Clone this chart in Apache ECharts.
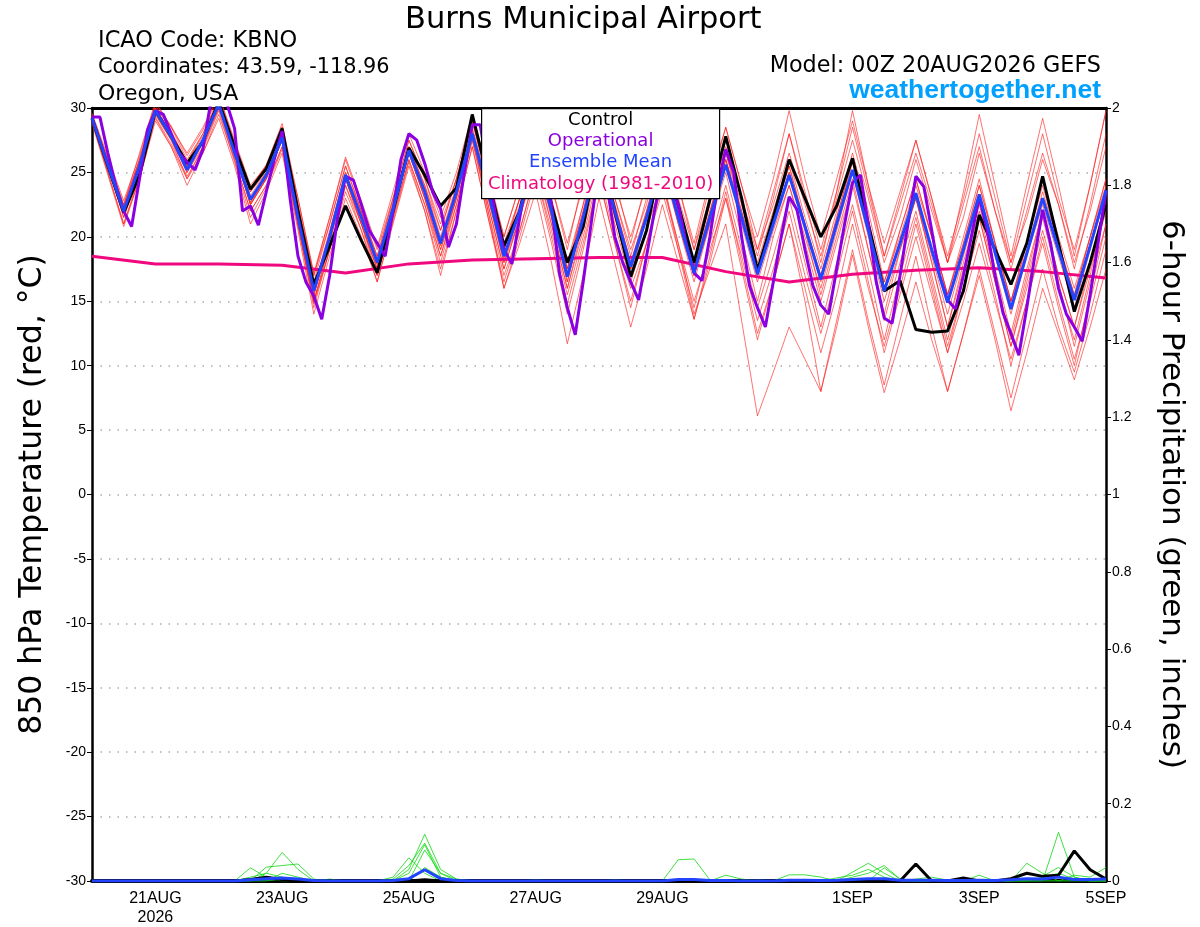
<!DOCTYPE html>
<html><head><meta charset="utf-8">
<script src="https://cdn.jsdelivr.net/npm/echarts@6/dist/echarts.min.js"></script>
<style>html,body{margin:0;padding:0;background:#fff}#c{width:1200px;height:927px}</style>
</head><body><div id="c"></div>
<script>
// ---- DATA ----
// forecast hour labels (x axis, hours after 00Z 20AUG2026)
const tickLabels = {24:'21AUG\n2026',72:'23AUG',120:'25AUG',168:'27AUG',216:'29AUG',288:'1SEP',336:'3SEP',384:'5SEP'};

// Control 850 hPa temperature (6-hourly, 65 values)
const control = [29.2,25.5,21.9,24.8, 29.8,27.8,25.7,27.4, 30.5,27.0,23.7,25.3, 28.4,22.0,16.3,19.3,
  22.4,19.7,17.2,22.0, 26.9,24.8,22.4,23.8, 29.5,24.5,19.3,22.0, 27.5,22.5,18.0,20.8,
  27.0,22.0,16.9,20.5, 26.5,22.5,18.0,22.9, 27.8,23.0,17.4,21.5, 26.0,23.0,20.0,22.4,
  26.1,21.0,15.8,16.6, 12.8,12.6,12.7,15.8, 21.7,19.0,16.3,19.5, 24.7,19.5,14.2,18.0, 22.5];

// Operational (3-hourly, 129 values)
const operational = [29.3,29.3,26.5,24.0,22.0,20.8,24.5,28.3,29.8,29.5,28.0,26.5,25.8,25.2,26.8,30.5,
  30.6,30.4,28.4,22.0,22.4,20.9,23.5,26.0,28.2,23.0,18.5,16.5,15.4,13.6,17.0,21.5,
  24.7,24.4,22.5,20.5,19.5,18.5,22.0,26.0,28.0,27.5,25.7,23.5,22.2,19.2,21.0,25.0,
  28.7,28.7,25.0,21.5,19.0,17.9,21.5,25.0,27.5,26.0,22.5,17.2,14.5,12.4,16.5,21.0,
  25.5,24.0,20.0,18.0,16.5,15.1,18.5,22.0,25.0,24.5,22.5,19.5,17.2,16.6,20.0,24.0,
  26.8,25.0,20.0,16.2,14.5,13.0,16.5,20.0,23.1,22.1,19.0,16.2,14.7,14.0,17.5,21.0,
  24.2,24.8,21.0,16.5,13.7,13.3,17.0,21.0,24.7,23.9,20.5,17.0,15.1,14.4,17.0,20.0,
  23.1,20.5,17.0,14.1,12.5,10.8,14.5,18.5,22.1,19.5,16.0,14.0,13.0,11.9,15.5,19.5, 23.6];

// Ensemble mean (6-hourly)
const ensMean = [29.2,25.6,22.0,25.5, 29.8,27.8,25.2,27.5, 30.3,26.5,22.9,24.8, 27.7,21.5,15.8,20.0,
  24.8,21.5,18.0,22.2, 26.7,23.5,19.5,23.5, 28.0,23.5,18.5,22.0, 26.5,22.0,16.9,21.5,
  26.5,22.0,17.7,21.5, 26.0,21.5,17.2,21.5, 25.6,21.5,17.1,21.0, 24.8,20.8,16.7,21.0,
  25.2,20.5,15.8,19.5, 23.4,19.0,14.9,19.0, 23.3,18.8,14.4,18.7, 23.0,19.0,15.1,19.3, 23.6];

// Climatology (1981-2010), daily values at 00Z
const climHours = [0,24,48,72,96,120,144,168,192,216,240,264,288,312,336,360,384];
const climatology = [18.5,17.9,17.9,17.8,17.2,17.9,18.2,18.3,18.4,18.4,17.3,16.5,17.1,17.4,17.6,17.3,16.8];

// Ensemble members (6-hourly)
const mem01 = [29.5,26,22.5,26, 30.2,28.5,26,28, 30.8,27,23.5,25.5, 28.5,22.5,16.5,21, 25.5,22,18.5,23, 27.5,24.5,20.5,24.5, 29,24.5,19.5,23, 28,23,18,22.5, 27.5,23,19,22.5, 27.5,23,19,23, 27,23,19,22.5, 26.5,22.5,18.5,23, 27.5,23,18,21.5, 26,22,18,21.5, 26.5,22,18,21.5, 26,22.5,18,22, 27];
const mem02 = [29,25,21,24.5, 29.2,27,24.5,26.5, 29.5,26,22,24, 27,21,15,19, 24,21,17,21.5, 26,22.5,18.5,22.5, 27.5,22,17,20.5, 25,20.5,15.5,20, 25,20,16,19.5, 24,19.5,15,19, 23,18.5,13.5,17.5, 22,17,12.5,17, 22,16.5,11,15.5, 20,15.5,11,15, 19.5,15,10.5,15, 20,15,10.5,15, 20];
const mem03 = [29,25.5,21.5,25, 29.5,27.5,25,27, 30,26.5,22.5,24.5, 27.5,21.5,15.5,20, 24.5,21,17.5,22, 26.5,23,19,23, 28,22.5,17.5,21.5, 25.5,21,16,20.5, 25.5,21,16.5,20.5, 24.5,19.5,14,17.5, 21,13.5,6.1,9.5, 13,10.5,8,13, 18.6,13,7.9,12, 16.5,12,8,12.5, 17,12,6.5,11, 16,12.5,8.9,13, 17.5];
const mem04 = [29.5,26,22.5,26.5, 30.5,28.5,26.5,28.5, 31,27.5,24,25.5, 28,23,17,21.5, 26,22.5,19,23, 27.5,24.5,21,24.5, 29,24.5,20,24, 28.5,24,19.5,24, 28.5,24,20,24, 28,24,19.5,24.5, 28.5,24,20,24.5, 29.8,24.5,20,24.5, 29,24,19.5,23.5, 27.5,23,18.5,23, 28,23,18,23, 28,23,19,24, 29.8];
const mem05 = [29,25.5,22,25.5, 30,28,25.5,27.5, 30.5,26.5,22.5,24.5, 27.5,21.5,15,19.5, 24.5,21,17.5,22, 26.5,23,18.5,23, 28,23,18,22, 27,21.5,16.5,21.5, 26.5,21.5,17,21.5, 26,21,16.5,21, 25,20,15,20, 24,19.5,15,19.5, 24,19,14,19, 23,18,13,18, 22.5,17.5,12.5,17.5, 22,17,13,17.5, 22];
const mem06 = [29.3,25.5,21.5,25, 29.5,27.5,24.5,27, 30,26,22,24, 27,21,14.5,19, 24,20.5,17,21.5, 26,22.5,18,22.5, 27.5,22.5,17.5,21.5, 26,21,16,21, 26,21.5,17.5,21.5, 25.5,21,17,21.5, 26,21.5,17,21, 25,20.5,15.5,20, 24.5,19,13.5,18, 22,17,12,17, 21.5,16.5,11.5,16, 20.5,16,12,17, 22.5];
const mem07 = [29,25.8,22.3,26, 30,28,25.8,27.8, 30.5,27,23.5,25, 28.5,22,16,20.5, 25,22,18,22.5, 27,24,20,24, 28.5,24,19,23, 27.5,22.5,17.5,22, 27,22.5,18,22, 26.5,22,17.5,22, 26.5,22.5,18,22, 26,21.5,17.5,22, 26.5,22,16.5,20.5, 24.5,20,15.5,20, 24.5,19.5,15,19.5, 24.5,20,16,20, 24.5];
const mem08 = [28.8,24.8,20.8,24.5, 29,27,24,26.5, 29.2,25.5,21,23.5, 26.5,20.5,14,18.5, 23,20,16.5,21, 25.5,22,17,22, 27,21.5,16,20, 24.5,19.5,14,19, 24.5,19.5,15,19.5, 23.5,19,14.5,19.5, 24,19,14.5,18.5, 23,18,13,18, 22.5,17.5,12,17, 21.5,16.5,11.5,16, 20.5,15.5,10,15, 19.5,14.5,10,15.5, 21];
const mem09 = [29.2,25.5,22,25.5, 30,28,25.5,27.5, 30.5,26.5,22.5,24.5, 27.5,21,15,19.5, 24.5,21,17.5,22, 26.5,23,19,23, 28,22,16,19.5, 23.5,18,11.7,17, 23,18,13,17.5, 22.5,18,13.6,18, 23,17.5,12,16.5, 21,15,8,13.5, 19,13.5,8.5,13.5, 18.5,13,8,12.5, 17.5,12.5,7.5,12.5, 17.5,13,9.5,14, 19];
const mem10 = [29.3,25.8,22.2,25.8, 30,28,25.3,27.5, 30.4,26.8,23.2,25, 27.8,21.8,16,20.3, 25,21.8,18.3,22.5, 26.9,23.8,19.8,23.8, 28.3,23.8,19,22.5, 27,22.5,17.5,22, 27,22.5,18,22, 26.5,22,17.5,22, 26,22,17.5,21.5, 25.5,21,17,21.5, 26,21,16.5,20, 24,20,15.5,19.5, 24,19.5,15,19, 23.5,19.5,15.5,20, 24];
const mem11 = [29.1,25.4,21.8,25.3, 29.7,27.6,25,27.3, 30.2,26.3,22.7,24.6, 27.5,21.3,15.5,19.8, 24.6,21.3,17.8,22, 26.5,23.3,19.3,23.3, 27.8,23.3,18.3,22, 26.5,22,17,21, 26,21.5,17.5,21.5, 26,21.5,17,21, 25.5,21,16.5,20.5, 24,20,16,20.5, 25,20,15,19, 23,18.5,14,18.5, 23,18.5,14,18.5, 22.5,18.5,14.5,19, 23.5];
const mem12 = [29.4,25.9,22.4,26, 30.2,28.2,25.8,28, 30.6,27,23.8,25.5, 28.5,22.5,17,21, 25.5,22,18.5,22.8, 27,24,20.5,24.5, 29,24,19,23, 27.5,22.5,17.5,22.5, 27.5,23,18.5,23, 27.5,22.5,18,22.5, 27.5,23,18.5,23, 28,23.5,19,23.5, 28.5,23.5,18.5,22.5, 26.5,22.5,18,22.5, 27,22,17.5,22, 26.5,22.5,17.5,22.5, 28];
const mem13 = [29.6,26.2,22.8,26.3, 30.4,28.6,26.3,28.3, 31,27.3,23.8,25.6, 28.8,23,17.2,21.5, 26.2,22.8,19.2,23.5, 28,25,21.5,25, 29.5,25,20,24, 29,24,19,24.5, 29.5,24.5,19.5,24.5, 29,24,19,24, 28.5,24,19,23.5, 28,23,18,23.5, 29.8,24,18.5,23, 27.5,23,18,23.5, 29.5,24,18.5,24, 29.2,24,18.5,24, 29.8];
const mem14 = [28.9,25,21,24.8, 29.3,27.2,24.7,26.8, 29.8,25.8,21.5,23.8, 26.8,20.8,14.8,19, 23.5,20.5,16.5,21.2, 25.8,22,17.5,22, 27,21.5,16.5,20.5, 25,20,14.8,19.5, 24.5,19.5,14.5,19.5, 24.5,19,13.6,18.5, 23.5,18,12.5,16.5, 21,16,11,15.5, 21,16,11.5,16, 21,16,11,16, 21.5,16.5,11.5,16.5, 21.5,16.5,11.5,16.5, 21];
const mem15 = [29.2,25.7,22.1,25.6, 29.9,27.9,25.4,27.6, 30.4,26.7,23,24.9, 27.9,21.7,15.8,20.1, 24.8,21.6,18.1,22.3, 26.8,23.6,19.6,23.6, 28.1,23.6,18.6,22.2, 26.8,22.2,17.2,21.6, 26.8,22.2,17.8,21.8, 26.3,21.8,17.3,21.8, 26.5,22,17.5,21.5, 25.5,21,16.5,21, 25.8,21,16,20.5, 24.5,20,15.5,19.5, 24,19.5,15,19.5, 24,19.5,15.5,20, 24.5];
const mem16 = [29.3,25.6,21.9,25.4, 29.8,27.8,25.2,27.4, 30.3,26.4,22.6,24.7, 27.6,21.4,15.5,19.9, 24.7,21.4,17.9,22.1, 26.6,23.4,19.4,23.4, 27.9,23,18,21.5, 26,21.5,16.5,21.5, 26.5,22,17.5,21.5, 26,21.5,17,21.5, 26,21.5,17,21, 25,21,17,21.5, 26,21,16,19.5, 23,18,13,17.5, 22,17,12,17, 22,17,13,18, 23];
const members = [mem01,mem02,mem03,mem04,mem05,mem06,mem07,mem08,mem09,mem10,mem11,mem12,mem13,mem14,mem15,mem16];

// 6-hour precipitation (inches), 6-hourly
const pcpControl = [0,0,0,0, 0,0,0,0, 0,0,0.004,0.01, 0.004,0,0,0, 0,0,0,0, 0,0.003,0,0, 0,0,0,0, 0,0,0,0,
  0,0,0,0, 0,0,0,0, 0,0,0,0, 0,0,0,0, 0,0,0,0, 0.044,0,0,0.008, 0,0,0.006,0.02, 0.012,0.015,0.078,0.029, 0.005];
const pcpMean = [0,0,0,0, 0,0,0,0, 0,0,0.003,0.006, 0.008,0.005,0.001,0, 0,0,0,0.001, 0.006,0.029,0.006,0.001, 0,0,0,0, 0,0,0,0,
  0,0,0,0, 0,0.004,0.004,0.001, 0.001,0,0,0, 0.002,0.002,0.001,0.002, 0.004,0.006,0.006,0.002, 0.002,0.002,0.001,0.001, 0.002,0.001,0.003,0.006, 0.005,0.01,0.004,0.004, 0.005];
const pcp01 = [0,0,0,0, 0,0,0,0, 0,0,0.034,0.01, 0,0,0,0, 0,0,0,0, 0.03,0.121,0.03,0.005, 0,0,0,0, 0,0,0,0,
  0,0,0,0, 0,0.055,0.057,0.003, 0,0,0,0, 0,0,0,0, 0.023,0.046,0.02,0, 0,0,0,0, 0,0,0,0, 0,0.126,0.01,0, 0];
const pcp02 = [0,0,0,0, 0,0,0,0, 0,0,0,0.02, 0.074,0.03,0,0.005, 0,0,0,0.005, 0.04,0.098,0.02,0, 0,0,0,0, 0,0,0,0,
  0,0,0,0, 0,0,0,0, 0,0,0,0, 0.016,0.016,0.01,0, 0,0,0.034,0.005, 0,0,0,0, 0,0,0,0.046, 0.02,0,0,0, 0];
const pcp03 = [0,0,0,0, 0,0,0,0, 0,0,0,0.036, 0.04,0.044,0.005,0, 0,0,0,0, 0.02,0.094,0.01,0, 0,0,0,0, 0,0,0,0,
  0,0,0,0, 0,0,0,0, 0.015,0.005,0,0, 0,0,0,0, 0,0,0,0, 0,0,0,0, 0.015,0,0,0, 0,0,0.015,0.01, 0.035];
const pcp04 = [0,0,0,0, 0,0,0,0, 0,0,0,0, 0.02,0.01,0,0, 0,0,0,0, 0,0.035,0.01,0, 0,0,0,0, 0,0,0,0,
  0,0.003,0,0, 0,0,0,0, 0,0,0,0, 0,0,0,0.008, 0.015,0.03,0.01,0, 0,0,0,0, 0,0,0,0.02, 0.012,0.035,0.01,0, 0];
const pcp05 = [0,0,0,0, 0,0,0,0, 0,0,0.01,0.02, 0.01,0,0,0, 0,0,0,0.01, 0.06,0.02,0,0, 0,0,0,0, 0,0,0,0,
  0,0,0,0, 0,0,0,0, 0,0,0,0, 0,0,0,0, 0,0,0,0, 0.005,0.01,0.002,0, 0,0,0,0, 0.01,0.02,0.005,0, 0];
const pcp06 = [0,0,0,0, 0,0,0,0, 0,0,0,0, 0.005,0,0,0, 0,0,0,0, 0,0.08,0.02,0.005, 0,0,0,0, 0.003,0,0,0,
  0,0,0,0, 0,0,0,0, 0,0,0.003,0, 0,0,0,0, 0.01,0.02,0.04,0.005, 0,0,0,0, 0,0,0,0, 0,0,0,0, 0];
const pcpMembers = [pcp01,pcp02,pcp03,pcp04,pcp05,pcp06];

// ---- CHART ----
const FONT = 'Liberation Sans, Arial, sans-serif';
const WIDE = '"DejaVu Sans", sans-serif';
const at6 = arr => arr.map((v,i)=>[i*6, v]);
const at3 = arr => arr.map((v,i)=>[i*3, v]);
const series = [];
members.forEach((m,k)=>series.push({type:'line',name:'member'+(k+1),data:at6(m),symbol:'none',z:2,
  lineStyle:{color:'rgba(255,30,30,0.7)',width:0.9},silent:true}));
pcpMembers.forEach((m,k)=>series.push({type:'line',name:'pcp'+(k+1),yAxisIndex:1,data:at6(m),symbol:'none',z:2,
  lineStyle:{color:'rgba(20,215,20,0.9)',width:0.9},silent:true}));
series.push({type:'line',name:'Climatology (1981-2010)',data:climHours.map((h,i)=>[h,climatology[i]]),symbol:'none',z:3,lineStyle:{color:'#f0087f',width:3}});
series.push({type:'line',name:'Control',data:at6(control),symbol:'none',z:4,lineStyle:{color:'#000',width:3}});
series.push({type:'line',name:'Operational',data:at3(operational),symbol:'none',z:5,lineStyle:{color:'#8a00e0',width:3}});
series.push({type:'line',name:'Ensemble Mean',data:at6(ensMean),symbol:'none',z:6,lineStyle:{color:'#2244ff',width:3}});
series.push({type:'line',name:'pcpMean',yAxisIndex:1,data:at6(pcpMean),symbol:'none',z:6,lineStyle:{color:'#2244ff',width:3}});
series.push({type:'line',name:'pcpControl',yAxisIndex:1,data:at6(pcpControl),symbol:'none',z:5,lineStyle:{color:'#000',width:3}});

const chart = echarts.init(document.getElementById('c'),null,{renderer:'canvas'});
chart.setOption({
  animation:false,
  backgroundColor:'#fff',
  textStyle:{fontFamily:FONT},
  grid:{left:92,right:94,top:108,bottom:44,show:false},
  xAxis:[{type:'value',min:0,max:384,interval:24,
    axisLine:{show:true,onZero:false,lineStyle:{color:'#000',width:4}},
    axisTick:{show:false},splitLine:{show:false},
    axisLabel:{color:'#000',fontSize:16,fontFamily:FONT,margin:8,lineHeight:19,
      formatter:v=>tickLabels[v]||'' ,showMaxLabel:true}},
    {type:'value',min:0,max:384,position:'top',
    axisLine:{show:true,onZero:false,lineStyle:{color:'#000',width:3}},
    axisTick:{show:false},splitLine:{show:false},axisLabel:{show:false}}],
  yAxis:[
    {type:'value',min:-30,max:30,interval:5,position:'left',
     name:'850 hPa Temperature (red, °C)',nameLocation:'middle',nameRotate:90,nameGap:43,
     nameTextStyle:{fontSize:31.5,color:'#000',fontFamily:WIDE},
     axisLine:{show:true,onZero:false,lineStyle:{color:'#000',width:2.5}},
     axisTick:{show:true,length:5,lineStyle:{color:'#000',width:1}},
     axisLabel:{color:'#000',fontSize:14,fontFamily:FONT,margin:6},
     splitLine:{show:true,lineStyle:{color:'#aaa',width:1.5,type:[1.5,7]}}},
    {type:'value',min:0,max:2,interval:0.2,position:'right',
     name:'6-hour Precipitation (green, inches)',nameLocation:'middle',nameRotate:-90,nameGap:50,
     nameTextStyle:{fontSize:31,color:'#000',fontFamily:WIDE},
     axisLine:{show:true,onZero:false,lineStyle:{color:'#000',width:2.5}},
     axisTick:{show:true,length:5,lineStyle:{color:'#000',width:1}},
     axisLabel:{color:'#000',fontSize:14,fontFamily:FONT,margin:6},
     splitLine:{show:false}}
  ],
  series:series,
  graphic:[
    {type:'text',left:405,top:5,style:{text:'Burns Municipal Airport',font:'30.5px '+WIDE,fill:'#000'},z:100},
    {type:'text',left:98,top:30,style:{text:'ICAO Code: KBNO',font:'22.5px '+WIDE,fill:'#000'},z:100},
    {type:'text',left:98,top:57,style:{text:'Coordinates: 43.59, -118.96',font:'20.8px '+WIDE,fill:'#000'},z:100},
    {type:'text',left:98,top:83,style:{text:'Oregon, USA',font:'22px '+WIDE,fill:'#000'},z:100},
    {type:'text',right:99,top:55,style:{text:'Model: 00Z 20AUG2026 GEFS',font:'22.3px '+WIDE,fill:'#000'},z:100},
    {type:'text',right:99,top:77,style:{text:'weathertogether.net',font:'bold 26.5px '+FONT,fill:'#00a0ff'},z:100},
    {type:'group',left:481,top:108,z:100,children:[
      {type:'rect',shape:{x:0,y:0,width:238,height:90},style:{fill:'#fff',stroke:'#000',lineWidth:1.2},z:100},
      {type:'text',x:119,y:3,style:{text:'Control',font:'18px '+WIDE,fill:'#000',textAlign:'center'},z:101},
      {type:'text',x:119,y:24,style:{text:'Operational',font:'18px '+WIDE,fill:'#8a00e0',textAlign:'center'},z:101},
      {type:'text',x:119,y:45,style:{text:'Ensemble Mean',font:'18px '+WIDE,fill:'#2244ff',textAlign:'center'},z:101},
      {type:'text',x:119,y:67,style:{text:'Climatology (1981-2010)',font:'18px '+WIDE,fill:'#f0087f',textAlign:'center'},z:101}
    ]}
  ]
});
</script></body></html>
